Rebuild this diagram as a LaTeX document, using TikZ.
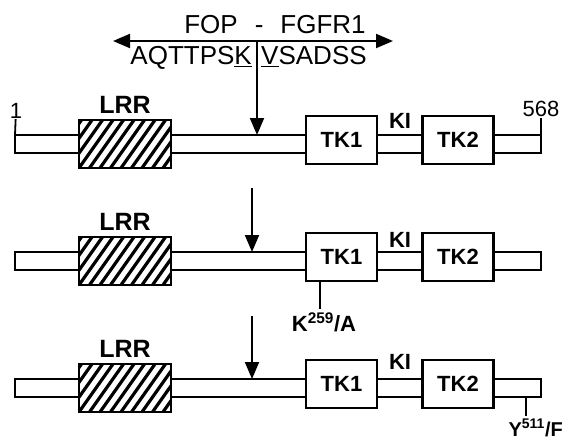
\documentclass[tikz,border=0pt]{standalone}
\usepackage{fontspec}
\setmainfont{Liberation Sans}
\usepackage{tikz}
\usetikzlibrary{arrows.meta, positioning, calc}
% hatched LRR domain: clip to the box, draw the stripes, redraw the frame
\newcommand{\hatchdomain}[1]{%
    \begin{scope}
        \clip (#1.south west) rectangle (#1.north east);
        \foreach \s in {-4,...,9}
            \draw[line width=3.2pt] ($(#1.south west)+(\s*10.5,0)$) -- ++(34,-48);
    \end{scope}
    \draw[line width=2.4pt] (#1.south west) rectangle (#1.north east);}

\begin{document}
\begin{tikzpicture}[x=1pt, y=-1pt, >={Triangle[width=14pt,length=17pt]},
    bar/.style={draw, line width=1.8pt, fill=white, minimum width=526pt,
        minimum height=18pt, inner sep=0pt, outer sep=0pt},
    box/.style={draw, line width=2.4pt, fill=white, inner sep=0pt, outer sep=0pt},
    lrrbox/.style={box, minimum width=92pt, minimum height=48pt},
    tkbox/.style={box, minimum width=71pt, minimum height=48pt,
        font=\fontsize{22}{24}\selectfont\bfseries},
    lab/.style={inner sep=0pt, font=\fontsize{22}{24}\selectfont\bfseries},
    lrrlab/.style={inner sep=0pt, font=\fontsize{25}{28}\selectfont\bfseries},
    seq/.style={inner sep=0pt, font=\fontsize{26}{30}\selectfont},
    num/.style={inner sep=1pt, font=\fontsize{22}{24}\selectfont},
    tick/.style={line width=1.8pt},
    cut/.style={->, line width=2pt}]

    \useasboundingbox (0,0) rectangle (565,444);

    % FOP - FGFR1 fusion point
    \coordinate (fusL) at (113,41);
    \coordinate (fusR) at (393,41);
    \draw[<->, line width=2pt] (fusL) -- (fusR);
    \node[seq, anchor=base] (fop) at (275,34) {FOP\hspace{17pt}-\hspace{17pt}FGFR1};
    \node[seq, anchor=base east] (seqL) at (252,65) {AQTTPS\underline{K}};
    \node[seq, anchor=base west] (seqR) at (261,65) {\underline{V}SADSS};

    % Row 1: fusion protein
    \node[bar] (bar1) at (278,144) {};
    \node[lrrbox] (lrr1) at (125,144) {};
    \hatchdomain{lrr1}
    \node[lrrlab, above=6pt of lrr1] {LRR};
    \node[tkbox] (tka1) at (341.5,140) {TK1};
    \node[tkbox] (tkb1) at (458,140) {TK2};
    \node[lab, anchor=base] (ki1) at (400,128) {KI};
    \node[num, anchor=base] (n1) at (16,118) {1};
    \node[num, anchor=base] (n568) at (541,117) {568};
    \draw[tick] (bar1.north west) -- (n1);
    \draw[tick] (bar1.north east) -- (n568);
    \coordinate (cut1) at (257,41);
    \draw[cut] (cut1) -- (cut1 |- bar1.north);

    % Row 2: K259/A
    \node[bar] (bar2) at (278,261) {};
    \node[lrrbox] (lrr2) at (125,261) {};
    \hatchdomain{lrr2}
    \node[lrrlab, above=6pt of lrr2] {LRR};
    \node[tkbox] (tka2) at (341.5,257) {TK1};
    \node[tkbox] (tkb2) at (458,257) {TK2};
    \node[lab, anchor=base] (ki2) at (400,247) {KI};
    \coordinate (cut2) at (252,188);
    \draw[cut] (cut2) -- (cut2 |- bar2.north);
    \path (tka2.south west) ++(14,0) coordinate (k259);
    \node[lab, anchor=north] (mutK) at (324,313) {K\textsuperscript{259}/A};
    \draw[tick, shorten >=4pt] (k259) -- (k259 |- mutK.north);

    % Row 3: Y511/F
    \node[bar] (bar3) at (278,388) {};
    \node[lrrbox] (lrr3) at (125,388) {};
    \hatchdomain{lrr3}
    \node[lrrlab, above=6pt of lrr3] {LRR};
    \node[tkbox] (tka3) at (341.5,384) {TK1};
    \node[tkbox] (tkb3) at (458,384) {TK2};
    \node[lab, anchor=base] (ki3) at (400,369) {KI};
    \coordinate (cut3) at (252,316);
    \draw[cut] (cut3) -- (cut3 |- bar3.north);
    \path (bar3.south east) ++(-15,0) coordinate (y511);
    \node[lab, font=\fontsize{20}{22}\selectfont\bfseries, anchor=north east]
        (mutY) at (563,419) {Y\textsuperscript{511}/F};
    \draw[tick, shorten >=3pt] (y511) -- (y511 |- mutY.north);

\end{tikzpicture}
\end{document}
